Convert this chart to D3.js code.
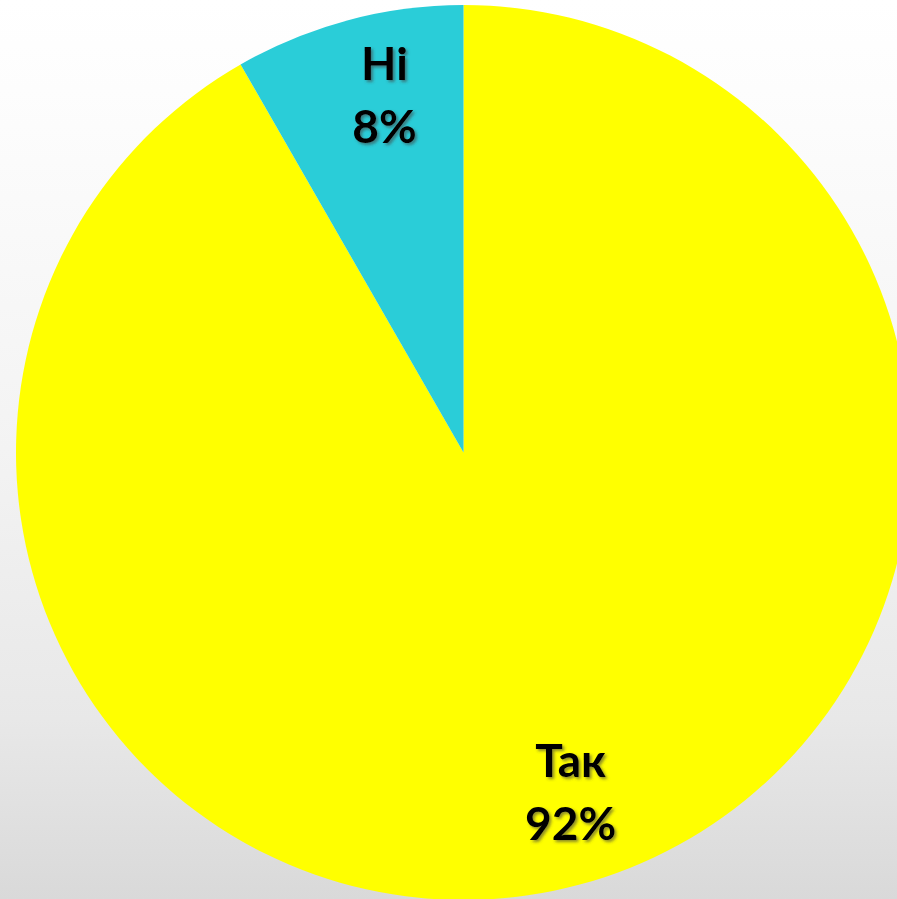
<!DOCTYPE html>
<html>
<head>
<meta charset="utf-8">
<script src="https://cdn.jsdelivr.net/npm/d3@7"></script>
<style>
html,body{margin:0;padding:0;overflow:hidden;}
svg{display:block;}
</style>
</head>
<body>
<svg id="chart" width="897" height="899"></svg>
<script>
const categories = ["Так", "Ні"];
const values = [91.7, 8.3];
const percentLabels = ["92%", "8%"];
const colors = ["#FFFF00", "#2ACDD8"];

const W = 897, H = 899;
const cx = 463.5, cy = 452.5, R = 447.5;
const svg = d3.select("#chart");
const defs = svg.append("defs");

const grad = defs.append("linearGradient").attr("id", "bg").attr("x1", 0).attr("y1", 0).attr("x2", 0).attr("y2", 1);
[[0, "#ffffff"], [0.1, "#fdfdfd"], [0.5, "#f3f3f3"], [0.8, "#e8e8e8"], [1, "#d9d9d9"]].forEach(([o, c]) =>
  grad.append("stop").attr("offset", o).attr("stop-color", c));
svg.append("rect").attr("width", W).attr("height", H).attr("fill", "url(#bg)");

const shadow = defs.append("filter").attr("id", "shadow").attr("x", "-20%").attr("y", "-20%").attr("width", "140%").attr("height", "140%");
shadow.append("feDropShadow").attr("dx", 2).attr("dy", 2).attr("stdDeviation", 1.5)
  .attr("flood-color", "#404040").attr("flood-opacity", 0.6);

const data = categories.map((c, i) => ({ cat: c, value: values[i], label: percentLabels[i], color: colors[i] }));
const pie = d3.pie().sort(null).value(d => d.value);
const arcs = pie(data);
const arc = d3.arc().innerRadius(0).outerRadius(R);

const g = svg.append("g").attr("transform", `translate(${cx},${cy})`);
g.selectAll("path.slice").data(arcs).enter().append("path")
  .attr("class", "slice")
  .attr("d", arc)
  .attr("fill", d => d.data.color);

const labelR = 361;
const lox = 14, loy = -9;
const lines = 63;
const fs = 46;
const lg = g.selectAll("g.lbl").data(arcs).enter().append("g").attr("class", "lbl")
  .attr("transform", d => {
    const a = (d.startAngle + d.endAngle) / 2;
    return `translate(${lox + labelR * Math.sin(a)},${loy - labelR * Math.cos(a)})`;
  })
  .attr("filter", "url(#shadow)");
lg.append("text")
  .attr("text-anchor", "middle")
  .attr("y", -lines / 2 + fs * 0.36)
  .style("font-family", "Lato, 'Open Sans', sans-serif")
  .style("font-weight", "bold")
  .style("font-size", fs + "px")
  .attr("fill", "#000")
  .text(d => d.data.cat);
lg.append("text")
  .attr("text-anchor", "middle")
  .attr("y", lines / 2 + fs * 0.36)
  .style("font-family", "Lato, 'Open Sans', sans-serif")
  .style("font-weight", "bold")
  .style("font-size", fs + "px")
  .attr("fill", "#000")
  .text(d => d.data.label);
</script>
</body>
</html>
